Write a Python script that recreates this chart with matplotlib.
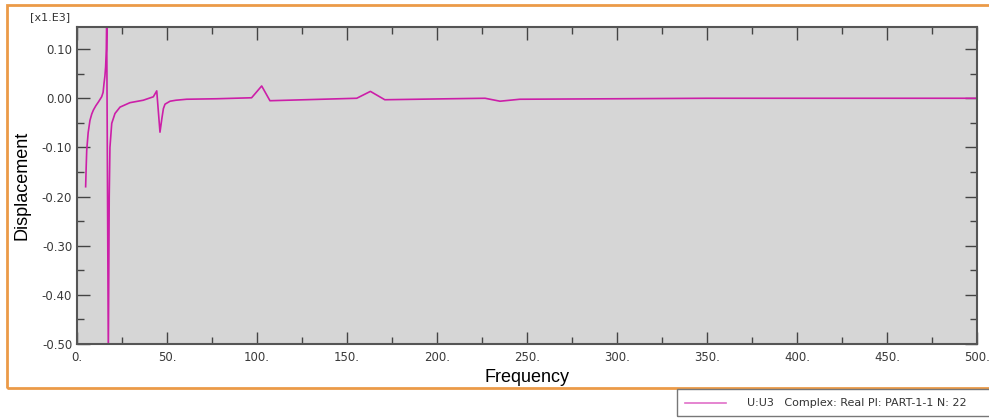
import matplotlib.pyplot as plt
from matplotlib.patches import Rectangle
from matplotlib.lines import Line2D

# datos (desplazamiento en unidades x1.E3)
freq = [4.8, 5.1, 5.4, 6.2, 7.2, 8.2, 9.1, 10.5, 11.9, 13.7, 14.5, 15.0, 15.5, 15.9, 16.3,
        16.5, 17.4, 17.9, 18.3, 19.3, 21.1, 23.9, 29.4, 36.8, 42.4, 44.3, 46.1, 47.2, 48.0,
        48.9, 51.7, 55.0, 60.9, 77.6, 97.0, 102.6, 107.2, 155.4, 163.0, 171.0, 207.0,
        226.7, 235.0, 246.0, 300.0, 350.0, 420.0, 500.0]
disp = [-0.180, -0.140, -0.106, -0.070, -0.045, -0.032, -0.024, -0.015, -0.0075, 0.003,
        0.012, 0.030, 0.045, 0.064, 0.100, 0.145, -0.52, -0.200, -0.100, -0.051, -0.031,
        -0.018, -0.009, -0.004, 0.003, 0.015, -0.069, -0.040, -0.021, -0.012, -0.006,
        -0.004, -0.002, -0.001, 0.001, 0.025, -0.005, 0.000, 0.014, -0.003, -0.001,
        0.000, -0.006, -0.002, -0.001, 0.000, 0.000, 0.000]

xticks = [0, 50, 100, 150, 200, 250, 300, 350, 400, 450, 500]
xlabels = ["0.", "50.", "100.", "150.", "200.", "250.", "300.", "350.", "400.", "450.", "500."]
yticks = [0.10, 0.00, -0.10, -0.20, -0.30, -0.40, -0.50]
ylabels = ["0.10", "0.00", "-0.10", "-0.20", "-0.30", "-0.40", "-0.50"]

fig = plt.figure(figsize=(9.89, 4.19), dpi=100)
W, H = 989, 419

# marco naranja
fig.patches.append(Rectangle((7 / W, 1 - 388 / H), 1.0, (388 - 5) / H, transform=fig.transFigure,
                             fill=False, edgecolor="#eb9a48", linewidth=2))

ax = fig.add_axes([77 / W, 1 - 344 / H, 900 / W, (344 - 27) / H])
ax.set_facecolor("#d6d6d6")
ax.plot(freq, disp, color="#cc1fa8", linewidth=1.2)
ax.set_xlim(0, 500)
ax.set_ylim(-0.50, 0.145)

ax.set_xticks(xticks)
ax.set_xticklabels(xlabels)
ax.set_yticks(yticks)
ax.set_yticklabels(ylabels)
ax.set_xticks([25 + 50 * i for i in range(10)], minor=True)
ax.set_yticks([0.05, -0.05, -0.15, -0.25, -0.35, -0.45], minor=True)
ax.tick_params(which="both", direction="in", top=True, right=True, colors="#444444",
               labelcolor="#3a3a3a", labelsize=8.5, width=1)
ax.tick_params(which="major", length=9)
ax.tick_params(which="minor", length=5)
ax.tick_params(axis="x", pad=5)
for s in ax.spines.values():
    s.set_color("#555555")
    s.set_linewidth(1.5)

ax.set_xlabel("Frequency", fontsize=13, family="Liberation Sans", labelpad=4)
ax.set_ylabel("Displacement", fontsize=13, family="Liberation Sans", labelpad=8)
fig.text(30 / W, 1 - 17 / H, "[x1.E3]", fontsize=8, color="#333333", va="center")

# leyenda
fig.patches.append(Rectangle((677 / W, 1 - 416 / H), 1.0, 27 / H, transform=fig.transFigure,
                             fill=False, edgecolor="#777777", linewidth=1))
fig.lines.append(Line2D([685 / W, 726 / W], [1 - 403 / H, 1 - 403 / H], transform=fig.transFigure,
                        color="#e070c8", linewidth=1.2))
fig.text(747 / W, 1 - 403 / H, "U:U3   Complex: Real PI: PART-1-1 N: 22", fontsize=8,
         color="#333333", va="center")

fig.savefig("out.png", dpi=100)
